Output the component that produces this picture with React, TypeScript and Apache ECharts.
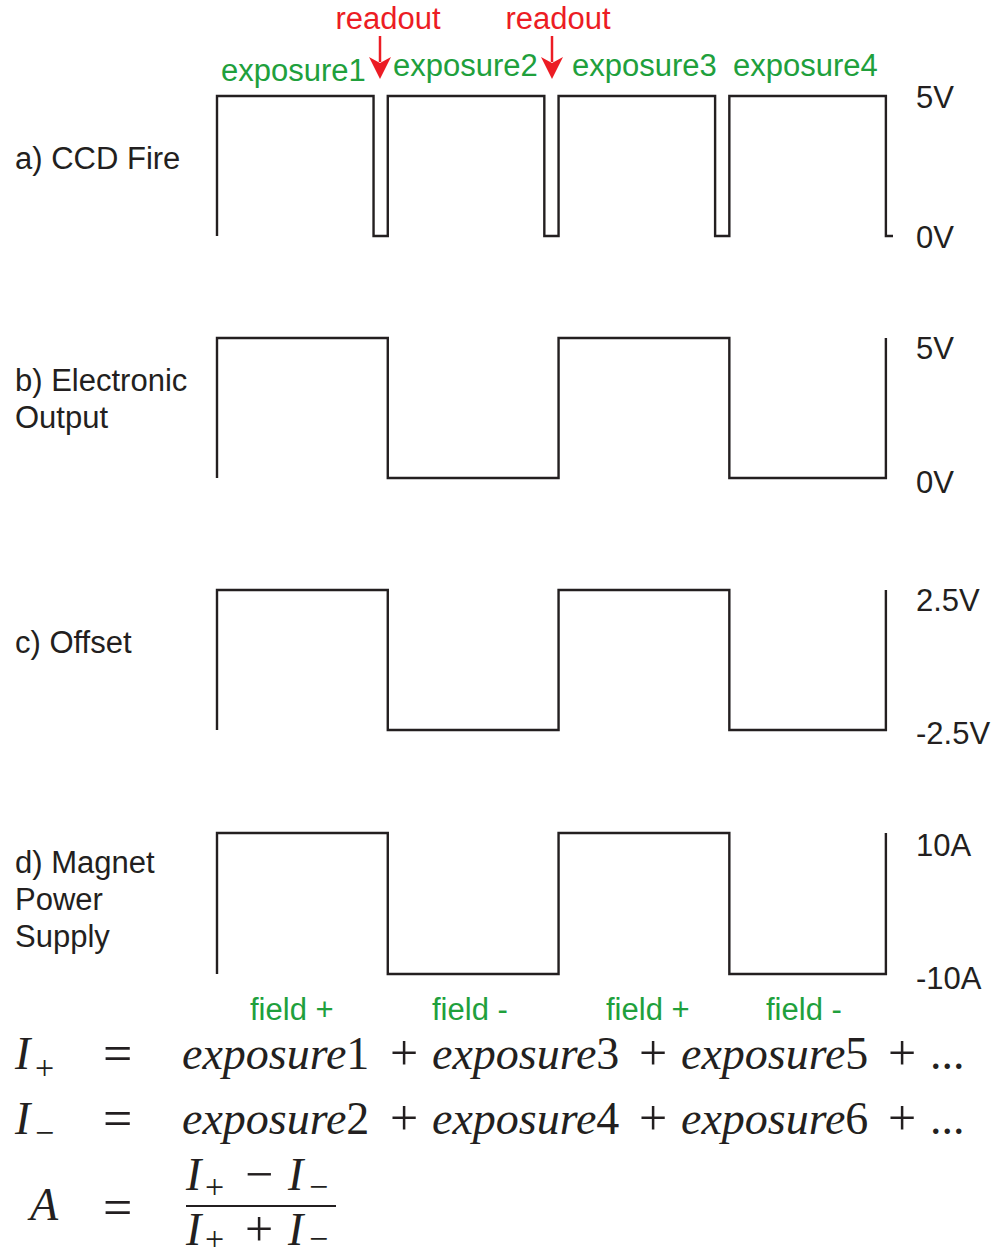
import React, { useEffect, useRef } from "react";
import * as echarts from "echarts";

// ---- data (time units: exposure = 11, readout = 1) ----
const ccdTimes = [0, 0, 11, 11, 12, 12, 23, 23, 24, 24, 35, 35, 36, 36, 47, 47, 47.5];
const ccdLevels = [0, 5, 5, 0, 0, 5, 5, 0, 0, 5, 5, 0, 0, 5, 5, 0, 0];

const switchTimes = [0, 0, 12, 12, 24, 24, 36, 36, 47, 47];
const outputLevels = [0, 5, 5, 0, 0, 5, 5, 0, 0, 5];
const offsetLevels = [-2.5, 2.5, 2.5, -2.5, -2.5, 2.5, 2.5, -2.5, -2.5, 2.5];
const magnetLevels = [-10, 10, 10, -10, -10, 10, 10, -10, -10, 10];

const panelNames = ["a) CCD Fire", "b) Electronic\nOutput", "c) Offset", "d) Magnet\nPower\nSupply"];
const panelMin = [0, 0, -2.5, -10];
const panelMax = [5, 5, 2.5, 10];
const minLabels = ["0V", "0V", "-2.5V", "-10A"];
const maxLabels = ["5V", "5V", "2.5V", "10A"];

const exposureLabels = ["exposure1", "exposure2", "exposure3", "exposure4"];
const fieldLabels = ["field +", "field -", "field +", "field -"];

const INK = "#231f20";
const GREEN = "#20a03c";
const RED = "#ec1c24";
const SANS = "'Liberation Sans', Arial, Helvetica, sans-serif";
const SERIF = "'Liberation Serif', 'Times New Roman', serif";

function txt(text: string, x: number, y: number, opts: any = {}) {
  return {
    type: "text",
    x,
    y,
    silent: true,
    style: {
      text,
      fill: opts.fill || INK,
      fontSize: opts.fontSize || 31,
      fontFamily: opts.fontFamily || SANS,
      fontStyle: opts.fontStyle || "normal",
      lineHeight: opts.lineHeight,
      align: opts.align || "left",
      textAlign: opts.align || "left",
      verticalAlign: "middle",
      textVerticalAlign: "middle",
      rich: opts.rich,
    },
  };
}

export default function App() {
  const ref = useRef<HTMLDivElement>(null);

  useEffect(() => {
    document.body.style.margin = "0";
    if (!ref.current) return;
    const chart = echarts.init(ref.current, null, { renderer: "svg" });

    const grids = [
      { left: 217, right: 102, top: 96, height: 140 },
      { left: 217, right: 102, top: 338, height: 140 },
      { left: 217, right: 102, top: 590, height: 140 },
      { left: 217, right: 102, top: 833, height: 141 },
    ];
    // downward shift of the max / min value labels (gap line heights)
    const maxGap = [2, 20, 20, 24];
    const minGap = [2, 8, 6, 8];

    const seriesData = [
      ccdTimes.map((t, i) => [t, ccdLevels[i]]),
      switchTimes.map((t, i) => [t, outputLevels[i]]),
      switchTimes.map((t, i) => [t, offsetLevels[i]]),
      switchTimes.map((t, i) => [t, magnetLevels[i]]),
    ];

    const graphic: any[] = [];
    graphic.push(txt("readout", 388, 18, { fill: RED, align: "center" }));
    graphic.push(txt("readout", 558, 18, { fill: RED, align: "center" }));
    [380, 552].forEach((ax) => {
      graphic.push({
        type: "line",
        silent: true,
        shape: { x1: ax, y1: 36, x2: ax, y2: 62 },
        style: { stroke: RED, lineWidth: 2.5 },
      });
      graphic.push({
        type: "polygon",
        silent: true,
        shape: { points: [[ax - 11, 57], [ax, 63], [ax + 11, 57], [ax, 79]] },
        style: { fill: RED },
      });
    });
    const expX = [221, 393, 572, 733];
    const expY = [70, 65, 65, 65];
    exposureLabels.forEach((l, i) => graphic.push(txt(l, expX[i], expY[i], { fill: GREEN })));
    const fieldX = [250, 432, 606, 766];
    fieldLabels.forEach((l, i) => graphic.push(txt(l, fieldX[i], 1009, { fill: GREEN })));

    const nameY = [158, 399, 642, 899];
    panelNames.forEach((n, i) => graphic.push(txt(n, 15, nameY[i], { lineHeight: 37 })));

    // equations
    const EQ = 46;
    const SUB = 34;
    const it = { fontStyle: "italic", fontFamily: SERIF, fontSize: EQ };
    const richExp = {
      it: { fontStyle: "italic", fontFamily: SERIF, fontSize: EQ, fill: INK },
      rm: { fontStyle: "normal", fontFamily: SERIF, fontSize: EQ, fill: INK },
    };
    const eqRow = (y: number, sub: string, nums: string[]) => {
      graphic.push(txt("I", 15, y, { ...it }));
      graphic.push(txt(sub, 35, y + 14, { fontFamily: SERIF, fontSize: SUB }));
      graphic.push(txt("=", 103, y, { fontFamily: SERIF, fontSize: 52 }));
      const xs = [182, 432, 681];
      nums.forEach((n, k) => {
        graphic.push(
          txt(`{it|exposure}{rm|${n}}`, xs[k], y, { rich: richExp, fontFamily: SERIF, fontSize: EQ })
        );
      });
      [390, 639, 888].forEach((px) => graphic.push(txt("+", px, y, { fontFamily: SERIF, fontSize: 50 })));
      graphic.push(txt("...", 930, y, { fontFamily: SERIF, fontSize: EQ }));
    };
    eqRow(1053, "+", ["1", "3", "5"]);
    eqRow(1118, "\u2212", ["2", "4", "6"]);

    graphic.push(txt("A", 30, 1204, { ...it }));
    graphic.push(txt("=", 103, 1207, { fontFamily: SERIF, fontSize: 52 }));
    const fracPart = (y: number, op: string, subDy: number) => {
      graphic.push(txt("I", 186, y, { ...it }));
      graphic.push(txt("+", 205, y + subDy, { fontFamily: SERIF, fontSize: SUB }));
      graphic.push(txt(op, 245, y, { fontFamily: SERIF, fontSize: 50 }));
      graphic.push(txt("I", 288, y, { ...it }));
      graphic.push(txt("\u2212", 309, y + subDy, { fontFamily: SERIF, fontSize: SUB }));
    };
    fracPart(1174, "\u2212", 12);
    fracPart(1229, "+", 9);
    graphic.push({
      type: "line",
      silent: true,
      shape: { x1: 186, y1: 1206, x2: 336, y2: 1206 },
      style: { stroke: INK, lineWidth: 2 },
    });

    chart.setOption({
      animation: false,
      backgroundColor: "#ffffff",
      grid: grids,
      xAxis: grids.map((_, i) => ({
        type: "value",
        gridIndex: i,
        min: 0,
        max: 47.5,
        show: false,
      })),
      yAxis: grids.map((_, i) => ({
        type: "value",
        gridIndex: i,
        min: panelMin[i],
        max: panelMax[i],
        position: "right",
        axisLine: { show: false },
        axisTick: { show: false },
        splitLine: { show: false },
        axisLabel: {
          customValues: [panelMin[i], panelMax[i]],
          showMinLabel: true,
          showMaxLabel: true,
          margin: 23,
          fontSize: 31,
          fontFamily: SANS,
          color: INK,
          formatter: (v: number) =>
            v === panelMax[i] ? `{g|}\n{v|${maxLabels[i]}}` : `{h|}\n{v|${minLabels[i]}}`,
          rich: {
            g: { lineHeight: maxGap[i], fontSize: 1 },
            h: { lineHeight: minGap[i], fontSize: 1 },
            v: { lineHeight: 30, fontSize: 31, fontFamily: SANS, color: INK },
          },
        },
      })),
      series: seriesData.map((d, i) => ({
        type: "line",
        xAxisIndex: i,
        yAxisIndex: i,
        data: d,
        symbol: "none",
        clip: false,
        lineStyle: { color: INK, width: 2.4, join: "miter", cap: "butt" },
      })),
      graphic,
    });

    return () => chart.dispose();
  }, []);

  return <div ref={ref} style={{ width: 995, height: 1258 }} />;
}
